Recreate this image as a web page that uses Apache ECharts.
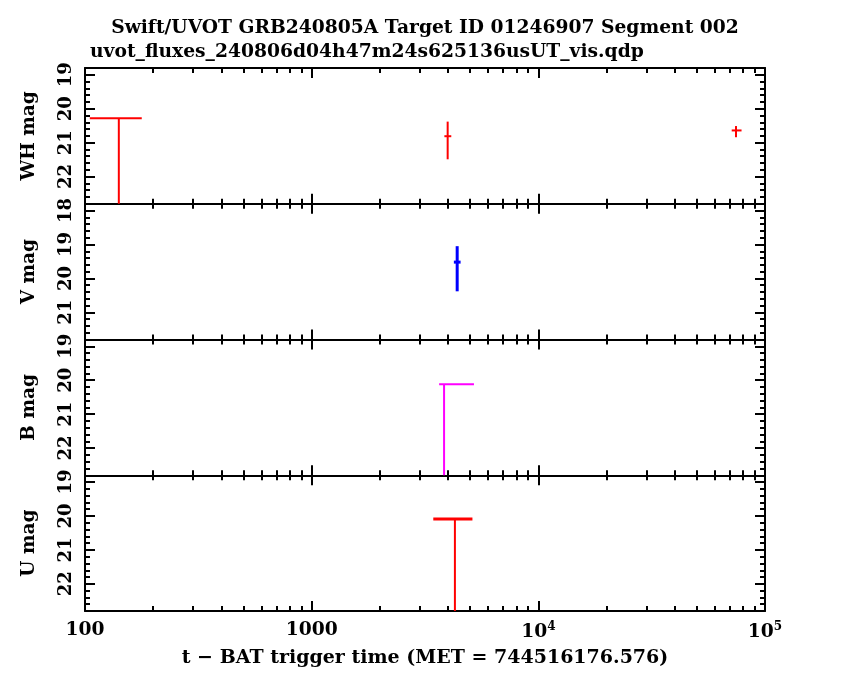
<!DOCTYPE html>
<html>
<head>
<meta charset="utf-8">
<script src="https://cdn.jsdelivr.net/npm/echarts@6/dist/echarts.min.js"></script>
<style>
 html, body { margin: 0; padding: 0; background: #fff; }
 #main { width: 850px; height: 680px; }
</style>
</head>
<body>
<div id="main"></div>
<script>
 // 面板: WH, V, B, U
 var panelNames = ['WH mag', 'V mag', 'B mag', 'U mag'];
 var panelMin = [18.8, 17.8, 18.8, 18.8];
 var panelMax = [22.8, 21.8, 22.8, 22.8];
 var panelLabels = [[19, 20, 21, 22], [18, 19, 20, 21], [19, 20, 21, 22], [19, 20, 21, 22]];
 var panelColors = ['#ff0000', '#0000ff', '#ff00ff', '#ff0000'];
 var panelWidths = [2, 3, 2, 3];

 // 探测点: [t, mag, tLo, tHi, magLo, magHi]
 var whDetections = [
     [3981, 20.81, 3850, 4130, 20.38, 21.49],
     [74500, 20.64, 71300, 78800, 20.51, 20.84]
 ];
 var vDetections = [
     [4385, 19.52, 4240, 4540, 19.05, 20.38]
 ];
 var bDetections = [];
 var uDetections = [];

 // 上限: [t, mag, tLo, tHi]
 var whLimits = [[141, 20.28, 105, 178]];
 var vLimits = [];
 var bLimits = [[3838, 20.12, 3650, 5200]];
 var uLimits = [[4285, 20.09, 3440, 5120]];

 var xMajorTicks = [100, 1000, 10000, 100000];
 var xMinorTicks = [200, 300, 400, 500, 600, 700, 800, 900,
                    2000, 3000, 4000, 5000, 6000, 7000, 8000, 9000,
                    20000, 30000, 40000, 50000, 60000, 70000, 80000, 90000];

 var detections = [whDetections, vDetections, bDetections, uDetections];
 var limits = [whLimits, vLimits, bLimits, uLimits];

 var FONT = 'DejaVu Serif';
 var gridTop = 68, gridH = 135.75;

 var grids = [], xAxes = [], yAxes = [], series = [];

 for (var i = 0; i < 4; i++) {
     grids.push({left: 85, right: 85, top: gridTop + i * gridH, height: gridH});
     var last = (i === 3);
     // 主x轴 (log)
     var xi = xAxes.length;
     xAxes.push({
         type: 'log', gridIndex: i, min: 100, max: 100000, logBase: 10,
         position: 'bottom',
         axisLine: {lineStyle: {color: '#000', width: 2}},
         axisTick: {inside: true, length: 10, lineStyle: {color: '#000', width: 2}},
         splitLine: {show: false},
         axisLabel: {
             show: last, margin: 10, color: '#000', fontFamily: FONT, fontWeight: 'bold', fontSize: 18.7,
             formatter: function (v) {
                 var e = Math.round(Math.log10(v));
                 return e <= 3 ? String(Math.round(v)) : '10{sup|' + e + '}';
             },
             rich: {sup: {fontSize: 12, fontFamily: FONT, fontWeight: 'bold', verticalAlign: 'top', padding: [0, 0, 10, 0]}}
         },
         name: last ? 't \u2212 BAT trigger time (MET = 744516176.576)' : '',
         nameLocation: 'middle', nameGap: 38,
         nameTextStyle: {color: '#000', fontFamily: FONT, fontWeight: 'bold', fontSize: 19}
     });
     // 小刻度 (log10 空间)
     ['bottom', 'top'].forEach(function (pos) {
         xAxes.push({
             type: 'value', gridIndex: i, min: 2, max: 5, position: pos,
             axisLine: {show: pos === 'top', lineStyle: {color: '#000', width: 2}},
             axisTick: {inside: true, length: 5, lineStyle: {color: '#000', width: 2},
                        customValues: xMinorTicks.map(function (t) { return Math.log10(t); })},
             axisLabel: {show: false},
             splitLine: {show: false}
         });
         if (pos === 'top') {
             xAxes.push({
                 type: 'value', gridIndex: i, min: 2, max: 5, position: 'top',
                 axisLine: {show: false},
                 axisTick: {inside: true, length: 10, lineStyle: {color: '#000', width: 2},
                            customValues: xMajorTicks.map(function (t) { return Math.log10(t); })},
                 axisLabel: {show: false},
                 splitLine: {show: false}
             });
         }
     });
     // y 轴
     var yi = yAxes.length;
     yAxes.push({
         type: 'value', gridIndex: i, inverse: true, min: panelMin[i], max: panelMax[i], interval: 0.2,
         position: 'left',
         axisLine: {lineStyle: {color: '#000', width: 2}},
         axisTick: {inside: true, length: 5, lineStyle: {color: '#000', width: 2}},
         axisLabel: {show: false},
         splitLine: {show: false},
         name: panelNames[i], nameLocation: 'middle', nameRotate: 90, nameGap: 46,
         nameTextStyle: {color: '#000', fontFamily: FONT, fontWeight: 'bold', fontSize: 18.5}
     });
     yAxes.push({
         type: 'value', gridIndex: i, inverse: true, min: panelMin[i], max: panelMax[i],
         position: 'left',
         axisLine: {show: false},
         axisTick: {inside: true, length: 10, lineStyle: {color: '#000', width: 2}, customValues: panelLabels[i]},
         axisLabel: {show: true, customValues: panelLabels[i], rotate: 90, margin: 10,
                     color: '#000', fontFamily: FONT, fontWeight: 'bold', fontSize: 18},
         splitLine: {show: false}
     });
     yAxes.push({
         type: 'value', gridIndex: i, inverse: true, min: panelMin[i], max: panelMax[i], interval: 0.2,
         position: 'right',
         axisLine: {lineStyle: {color: '#000', width: 2}},
         axisTick: {inside: true, length: 5, lineStyle: {color: '#000', width: 2}},
         axisLabel: {show: false},
         splitLine: {show: false}
     });
     yAxes.push({
         type: 'value', gridIndex: i, inverse: true, min: panelMin[i], max: panelMax[i],
         position: 'right',
         axisLine: {show: false},
         axisTick: {inside: true, length: 10, lineStyle: {color: '#000', width: 2}, customValues: panelLabels[i]},
         axisLabel: {show: false},
         splitLine: {show: false}
     });

     (function (color, lw) {
         // 误差棒
         series.push({
             type: 'custom', xAxisIndex: xi, yAxisIndex: yi,
             data: detections[i],
             renderItem: function (params, api) {
                 var l = api.coord([api.value(2), api.value(1)]);
                 var r = api.coord([api.value(3), api.value(1)]);
                 var top = api.coord([api.value(0), api.value(4)]);
                 var bot = api.coord([api.value(0), api.value(5)]);
                 var st = {stroke: color, lineWidth: lw};
                 return {type: 'group', children: [
                     {type: 'line', shape: {x1: l[0], y1: l[1], x2: r[0], y2: r[1]}, style: st},
                     {type: 'line', shape: {x1: top[0], y1: top[1], x2: bot[0], y2: bot[1]}, style: st}
                 ]};
             },
             silent: true, animation: false
         });
         // 上限
         series.push({
             type: 'custom', xAxisIndex: xi, yAxisIndex: yi,
             data: limits[i],
             renderItem: function (params, api) {
                 var c = api.coord([api.value(0), api.value(1)]);
                 var l = api.coord([api.value(2), api.value(1)]);
                 var r = api.coord([api.value(3), api.value(1)]);
                 var bottom = params.coordSys.y + params.coordSys.height;
                 return {type: 'group', children: [
                     {type: 'line', shape: {x1: l[0], y1: l[1], x2: r[0], y2: r[1]}, style: {stroke: color, lineWidth: lw}},
                     {type: 'line', shape: {x1: c[0], y1: c[1], x2: c[0], y2: bottom}, style: {stroke: color, lineWidth: 2}}
                 ]};
             },
             silent: true, animation: false
         });
     })(panelColors[i], panelWidths[i]);
 }

 var chart = echarts.init(document.getElementById('main'));
 chart.setOption({
     backgroundColor: '#fff',
     animation: false,
     title: [{
         text: 'Swift/UVOT GRB240805A Target ID 01246907 Segment 002',
         left: 'center', top: 14,
         textStyle: {color: '#000', fontFamily: FONT, fontWeight: 'bold', fontSize: 18.7}
     }, {
         text: 'uvot_fluxes_240806d04h47m24s625136usUT_vis.qdp',
         left: 85, top: 38,
         textStyle: {color: '#000', fontFamily: FONT, fontWeight: 'bold', fontSize: 18.7}
     }],
     grid: grids,
     xAxis: xAxes,
     yAxis: yAxes,
     series: series
 });
</script>
</body>
</html>
